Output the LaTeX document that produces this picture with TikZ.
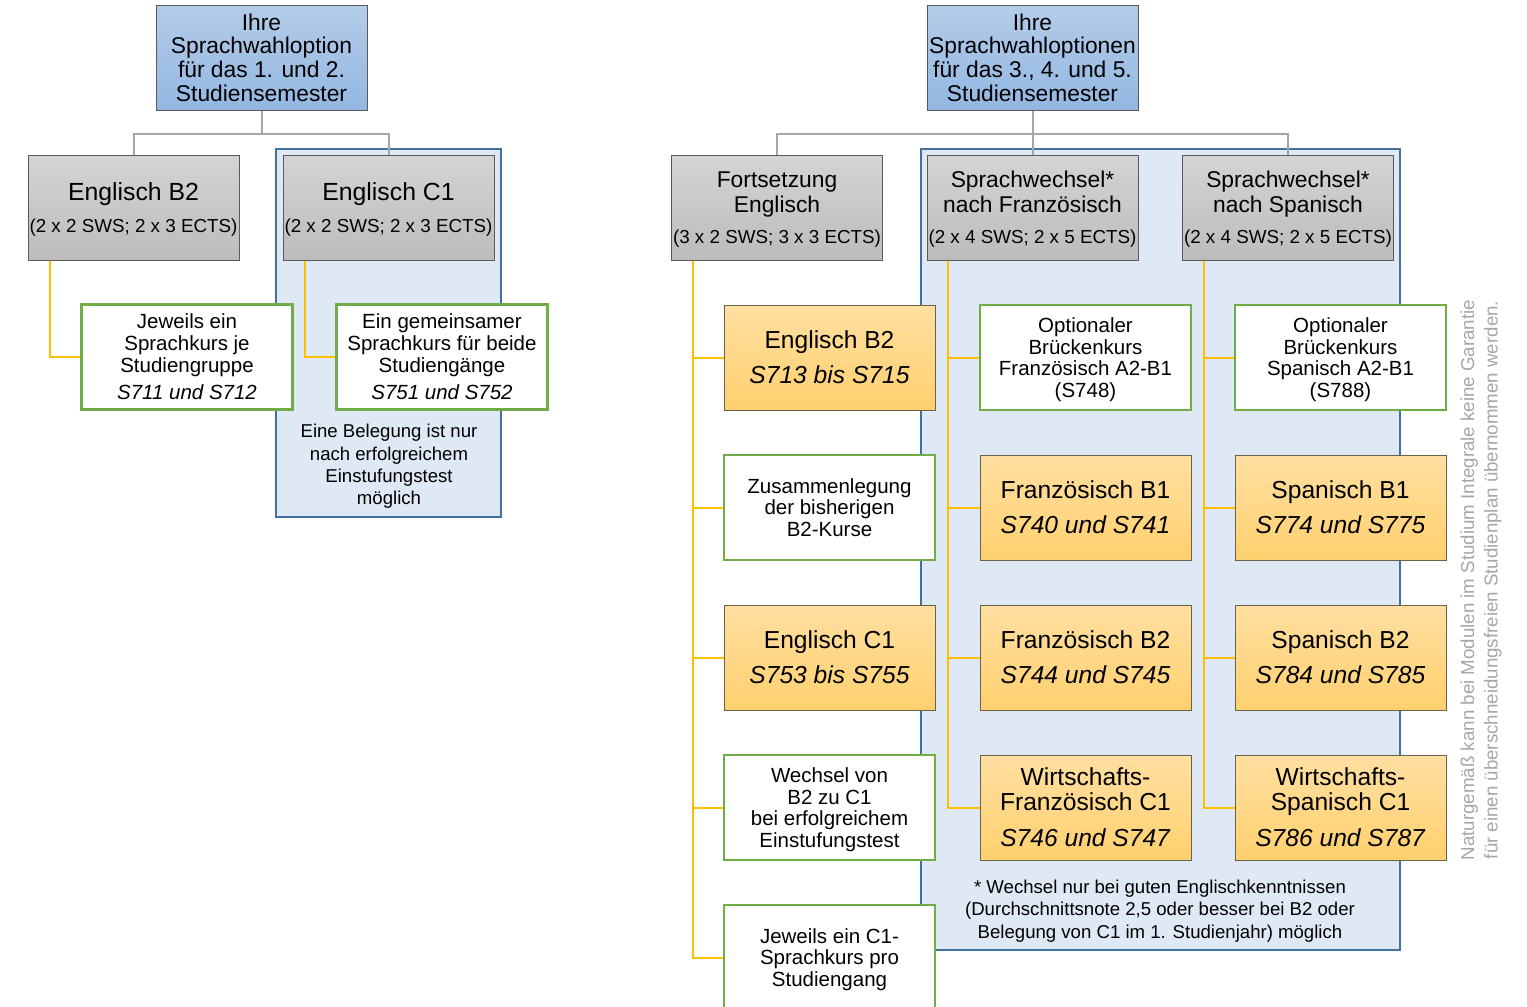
\documentclass[tikz,border=0pt]{standalone}
\usepackage{fontspec}
\setmainfont{Liberation Sans}

\definecolor{topA}{HTML}{B4CCE8}
\definecolor{topB}{HTML}{93B7E2}
\definecolor{headA}{HTML}{D4D4D4}
\definecolor{headB}{HTML}{BCBCBC}
\definecolor{orangeA}{HTML}{FFDFA1}
\definecolor{orangeB}{HTML}{FFD06E}
\definecolor{boxline}{HTML}{5A5A5A}
\definecolor{orangeline}{HTML}{6B6048}
\definecolor{greenline}{HTML}{70AD47}
\definecolor{backfill}{HTML}{DEE9F5}
\definecolor{backline}{HTML}{41719C}
\definecolor{conngray}{HTML}{A6A6A6}
\definecolor{connyellow}{HTML}{FFC000}

\tikzset{
    box/.style={rectangle, minimum width=211pt, minimum height=105pt, inner sep=0pt, text depth=0pt, align=center, text=black},
    topbox/.style={box, draw=boxline, line width=1pt, top color=topA, bottom color=topB, font=\fontsize{22.8}{23.7}\selectfont},
    headbox/.style={box, draw=boxline, line width=1pt, top color=headA, bottom color=headB},
    greenbox/.style={box, draw=greenline, line width=2.5pt, fill=white, font=\fontsize{20.5}{21.7}\selectfont},
    orangebox/.style={box, draw=orangeline, line width=1pt, top color=orangeA, bottom color=orangeB, font=\fontsize{24.6}{25}\selectfont},
    backdrop/.style={draw=backline, line width=2pt, fill=backfill},
    grayline/.style={draw=conngray, line width=2pt},
    yellowline/.style={draw=connyellow, line width=2pt},
    smalltext/.style={align=center, font=\fontsize{18.6}{22.4}\selectfont}
}
\newcommand{\ects}[1]{{\fontsize{18.8}{18.8}\selectfont #1}}

\begin{document}
\begin{tikzpicture}[x=1pt,y=-1pt]
    \useasboundingbox (0,0) rectangle (1527,1007);
    \clip (0,0) rectangle (1527,1007);
    %% blaue Hintergrundflaechen
    \draw[backdrop] (276,149) rectangle (501,517);
    \draw[backdrop] (921,149) rectangle (1400,950);

    \node[topbox] (wahlA) at (261.5,57.5) {Ihre\\Sprachwahloption\\für das 1. und 2.\\Studiensemester};
    \node[topbox] (wahlB) at (1032.5,57.5) {Ihre\\Sprachwahloptionen\\für das 3., 4. und 5.\\Studiensemester};

    %% 1. und 2. Semester
    \node[headbox, font=\fontsize{24.8}{32}\selectfont] (engB) at (133.5,207.5) {Englisch B2\\\ects{(2 x 2 SWS; 2 x 3 ECTS)}};
    \node[headbox, font=\fontsize{24.8}{32}\selectfont] (engC) at (388.5,207.5) {Englisch C1\\\ects{(2 x 2 SWS; 2 x 3 ECTS)}};
    \node[greenbox] (engBkurs) at (187,357) {Jeweils ein\\Sprachkurs je\\Studiengruppe\\[6pt]\textit{S711 und S712}};
    \node[greenbox] (engCkurs) at (442,357) {Ein gemeinsamer\\Sprachkurs für beide\\Studiengänge\\[6pt]\textit{S751 und S752}};
    \node[smalltext] (belegung) at (389,466.5) {Eine Belegung ist nur\\nach erfolgreichem\\Einstufungstest\\möglich};

    %% 3., 4. und 5. Semester
    \node[headbox, font=\fontsize{22.8}{25}\selectfont] (fort) at (777,207.5) {Fortsetzung\\Englisch\\[6pt]\ects{(3 x 2 SWS; 3 x 3 ECTS)}};
    \node[headbox, font=\fontsize{22.8}{25}\selectfont] (frz) at (1032.5,207.5) {Sprachwechsel*\\nach Französisch\\[6pt]\ects{(2 x 4 SWS; 2 x 5 ECTS)}};
    \node[headbox, font=\fontsize{22.8}{25}\selectfont] (spa) at (1288,207.5) {Sprachwechsel*\\nach Spanisch\\[6pt]\ects{(2 x 4 SWS; 2 x 5 ECTS)}};

    \node[orangebox] (fort1) at (829.5,357.5) {Englisch B2\\[10pt]\textit{S713 bis S715}};
    \node[greenbox] (fort2) at (829.5,507.5) {Zusammenlegung\\der bisherigen\\B2-Kurse};
    \node[orangebox] (fort3) at (829.5,657.5) {Englisch C1\\[10pt]\textit{S753 bis S755}};
    \node[greenbox] (fort4) at (829.5,807.5) {Wechsel von\\B2 zu C1\\bei erfolgreichem\\Einstufungstest};
    \node[greenbox] (fort5) at (829.5,957.5) {Jeweils ein C1-\\Sprachkurs pro\\Studiengang};

    \node[greenbox] (frz1) at (1085.5,357.5) {Optionaler\\Brückenkurs\\Französisch A2-B1\\(S748)};
    \node[orangebox] (frz2) at (1085.5,507.5) {Französisch B1\\[10pt]\textit{S740 und S741}};
    \node[orangebox] (frz3) at (1085.5,657.5) {Französisch B2\\[10pt]\textit{S744 und S745}};
    \node[orangebox] (frz4) at (1085.5,807.5) {Wirtschafts-\\Französisch C1\\[11pt]\textit{S746 und S747}};

    \node[greenbox] (spa1) at (1340.5,357.5) {Optionaler\\Brückenkurs\\Spanisch A2-B1\\(S788)};
    \node[orangebox] (spa2) at (1340.5,507.5) {Spanisch B1\\[10pt]\textit{S774 und S775}};
    \node[orangebox] (spa3) at (1340.5,657.5) {Spanisch B2\\[10pt]\textit{S784 und S785}};
    \node[orangebox] (spa4) at (1340.5,807.5) {Wirtschafts-\\Spanisch C1\\[11pt]\textit{S786 und S787}};

    \node[smalltext] (fussnote) at (1160,911) {* Wechsel nur bei guten Englischkenntnissen\\(Durchschnittsnote 2,5 oder besser bei B2 oder\\Belegung von C1 im 1. Studienjahr) möglich};
    \node[rotate=90, align=center, text=conngray, font=\fontsize{18.7}{23.5}\selectfont] (hinweis) at (1481,580) {Naturgemäß kann bei Modulen im Studium Integrale keine Garantie\\für einen überschneidungsfreien Studienplan übernommen werden.};

    %% Verbindungen
    \foreach \v in {engB,engC}
        \draw[grayline] (wahlA.south) -- ++(0,23) -| (\v.north);
    \foreach \v in {fort,frz,spa}
        \draw[grayline] (wahlB.south) -- ++(0,23) -| (\v.north);
    \draw[yellowline] ([xshift=22pt]engB.south west) |- (engBkurs.west);
    \draw[yellowline] ([xshift=22pt]engC.south west) |- (engCkurs.west);
    \foreach \k in {1,...,5}
        \draw[yellowline] ([xshift=22pt]fort.south west) |- (fort\k.west);
    \foreach \k in {1,...,4}
    {
        \draw[yellowline] ([xshift=21pt]frz.south west) |- (frz\k.west);
        \draw[yellowline] ([xshift=22pt]spa.south west) |- (spa\k.west);
    };
\end{tikzpicture}
\end{document}
